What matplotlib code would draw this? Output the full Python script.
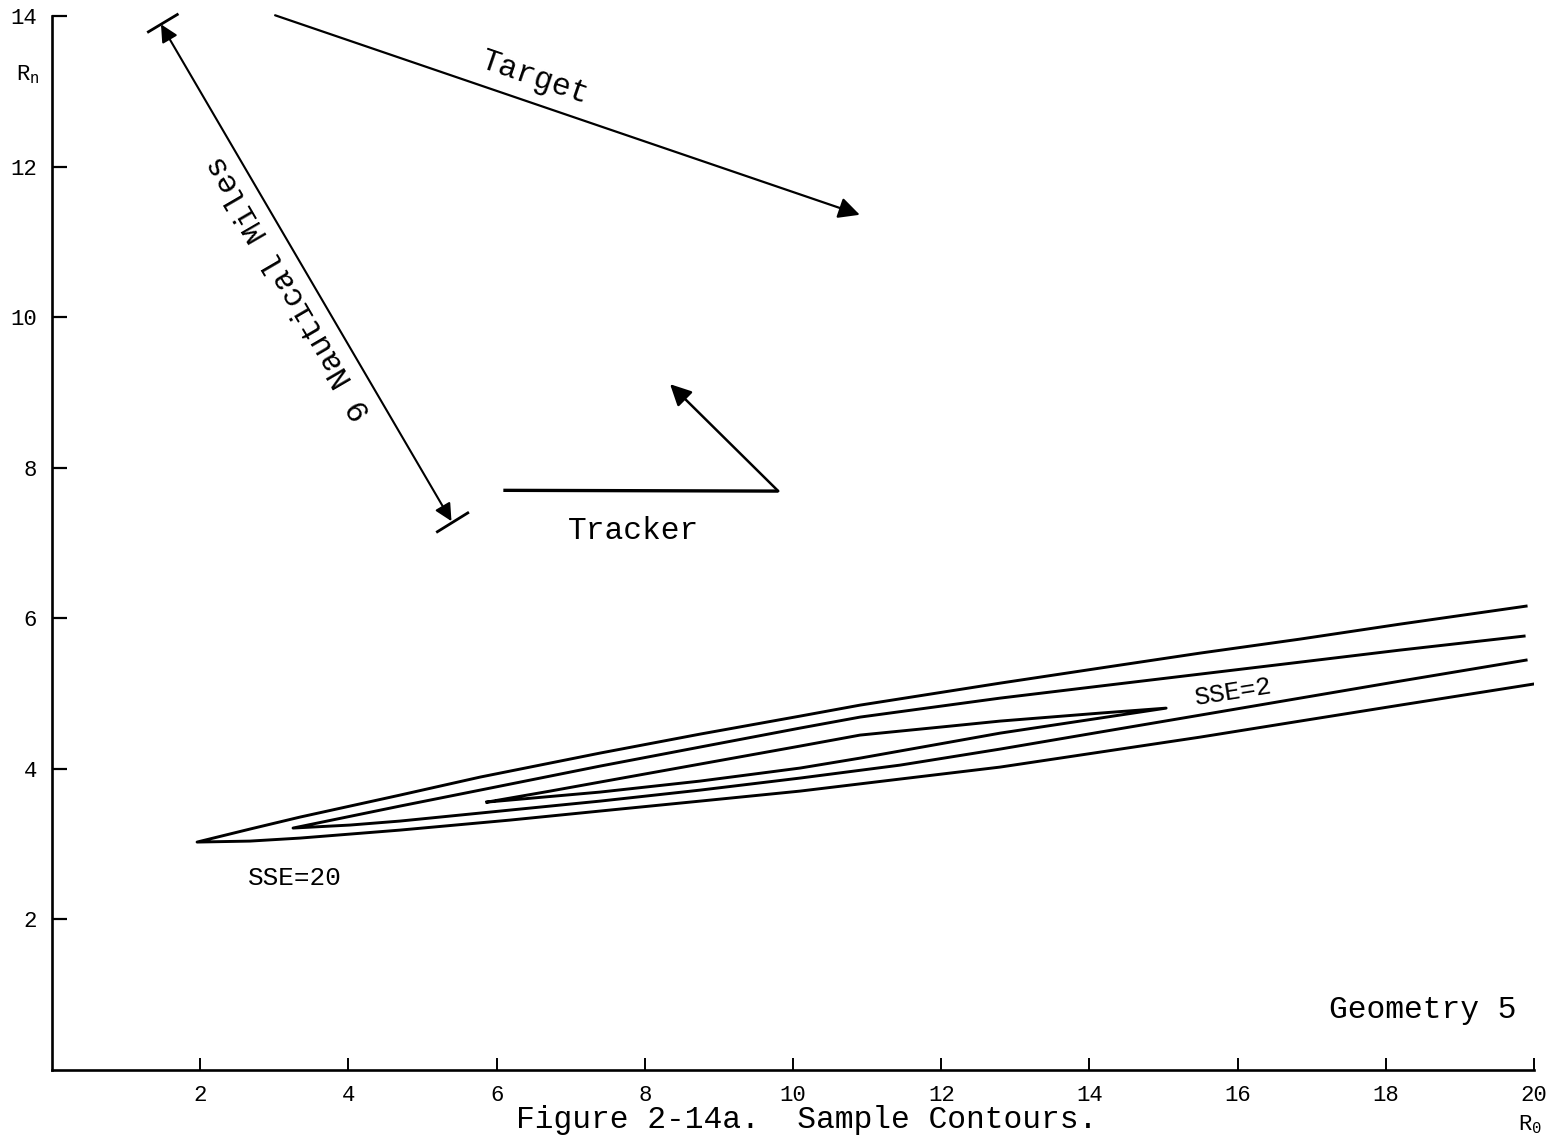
import matplotlib
matplotlib.use("Agg")
from matplotlib import pyplot as plt

plt.rcParams["font.family"] = ["Liberation Mono", "DejaVu Sans Mono"]
plt.rcParams["mathtext.fontset"] = "custom"
plt.rcParams["mathtext.rm"] = "Liberation Mono"

# SSE=20 contour: lower branch (right -> tip), upper branch (tip -> right)
outer_low_x = [19.987, 18.192, 16.842, 15.493, 14.143, 12.794, 11.444, 10.094, 8.745, 7.395, 6.181, 4.696, 3.347, 2.672, 1.957]
outer_low_y = [5.126, 4.847, 4.635, 4.422, 4.223, 4.024, 3.865, 3.705, 3.572, 3.440, 3.320, 3.187, 3.081, 3.041, 3.028]
outer_up_x = [1.957, 2.672, 3.347, 4.696, 5.776, 7.395, 8.745, 10.094, 10.904, 12.794, 14.143, 15.493, 16.842, 18.192, 19.892]
outer_up_y = [3.028, 3.201, 3.360, 3.652, 3.891, 4.210, 4.462, 4.701, 4.847, 5.139, 5.339, 5.538, 5.724, 5.923, 6.162]

# middle contour
mid_low_x = [19.892, 18.192, 16.842, 15.493, 14.143, 12.794, 11.444, 10.094, 8.745, 7.395, 6.181, 4.696, 4.022, 3.252]
mid_low_y = [5.445, 5.166, 4.940, 4.714, 4.489, 4.263, 4.050, 3.878, 3.718, 3.572, 3.453, 3.307, 3.254, 3.214]
mid_up_x = [3.252, 4.696, 5.776, 7.395, 8.745, 10.094, 10.904, 12.794, 14.143, 15.493, 16.842, 18.192, 19.865]
mid_up_y = [3.214, 3.506, 3.718, 4.037, 4.290, 4.542, 4.688, 4.940, 5.100, 5.259, 5.418, 5.578, 5.764]

# SSE=2 closed contour
inner_up_x = [5.870, 6.721, 7.395, 8.745, 10.094, 10.904, 12.119, 12.794, 14.143, 15.034]
inner_up_y = [3.559, 3.705, 3.825, 4.064, 4.303, 4.449, 4.568, 4.635, 4.741, 4.807]
inner_low_x = [15.034, 14.143, 12.794, 12.119, 10.904, 10.094, 8.745, 7.395, 5.870]
inner_low_y = [4.807, 4.675, 4.475, 4.356, 4.143, 4.011, 3.838, 3.692, 3.559]

xticks = [2, 4, 6, 8, 10, 12, 14, 16, 18, 20]
yticks = [2, 4, 6, 8, 10, 12, 14]

# geometry sketch
target_start = (3.01, 14.01)
target_end = (10.90, 11.36)
miles_start = (1.47, 13.89)
miles_end = (5.39, 7.29)
cap_top_x, cap_top_y = [1.30, 1.69], [13.79, 14.02]
cap_bot_x, cap_bot_y = [5.20, 5.61], [7.15, 7.40]
tracker_x = [6.09, 9.80]
tracker_y = [7.70, 7.69]
tracker_head = (8.34, 9.11)

fig = plt.figure(figsize=(15.54, 11.37), dpi=100)
ax = fig.add_axes([0.0335, 0.0589, 0.9537, 0.9270])
ax.set_xlim(0, 20)
ax.set_ylim(0, 14)

for s in ["top", "right"]:
    ax.spines[s].set_visible(False)
for s in ["left", "bottom"]:
    ax.spines[s].set_linewidth(1.9)

ax.set_xticks(xticks)
ax.set_yticks(yticks)
ax.tick_params(axis="x", direction="in", length=9, width=1.4, pad=11, labelsize=16)
ax.tick_params(axis="y", direction="in", length=11, width=1.6, pad=11, labelsize=16)

lw = 2.1
ax.plot(outer_low_x + outer_up_x[1:], outer_low_y + outer_up_y[1:], color="black", lw=lw)
ax.plot(mid_low_x + mid_up_x[1:], mid_low_y + mid_up_y[1:], color="black", lw=lw)
ax.plot(inner_up_x + inner_low_x[1:], inner_up_y + inner_low_y[1:], color="black", lw=lw)

txt = dict(fontsize=22.5, color="black")
ax.annotate("", xy=target_end, xytext=target_start,
            arrowprops=dict(arrowstyle="-|>", mutation_scale=32, lw=1.6, color="black", shrinkA=0, shrinkB=0))
ax.text(6.52, 13.17, "Target", rotation=-19, ha="center", va="center", **txt)

ax.annotate("", xy=miles_end, xytext=miles_start,
            arrowprops=dict(arrowstyle="<|-|>", mutation_scale=26, lw=1.5, color="black", shrinkA=0, shrinkB=0),
            annotation_clip=False)
ax.plot(cap_top_x, cap_top_y, color="black", lw=2.0, clip_on=False)
ax.plot(cap_bot_x, cap_bot_y, color="black", lw=2.0, clip_on=False)
ax.text(3.21, 10.39, "9 Nautical Miles", rotation=120.2, ha="center", va="center",
        rotation_mode="anchor", **txt)

ax.plot(tracker_x, tracker_y, color="black", lw=2.4, solid_capstyle="butt")
ax.annotate("", xy=tracker_head, xytext=(tracker_x[1], tracker_y[1]),
            arrowprops=dict(arrowstyle="-|>", mutation_scale=32, lw=1.8, color="black", shrinkA=0, shrinkB=0))
ax.text(7.84, 7.16, "Tracker", ha="center", va="center", **txt)

ax.text(3.28, 2.55, "SSE=20", ha="center", va="center", fontsize=18.7)
ax.text(15.94, 5.02, "SSE=2", ha="center", va="center", rotation=9, fontsize=18.7)
ax.text(18.50, 0.69, "Geometry 5", ha="center", va="baseline", **txt)

fig.text(0.018, 0.934, r"$\mathregular{R_n}$", ha="center", va="center", fontsize=16)
fig.text(0.9846, 0.0106, r"$\mathregular{R_0}$", ha="center", va="center", fontsize=16)
fig.text(0.519, 0.002, "Figure 2-14a.  Sample Contours.", ha="center", va="bottom", fontsize=22.5)

fig.savefig("out.png", dpi=100, facecolor="white")
